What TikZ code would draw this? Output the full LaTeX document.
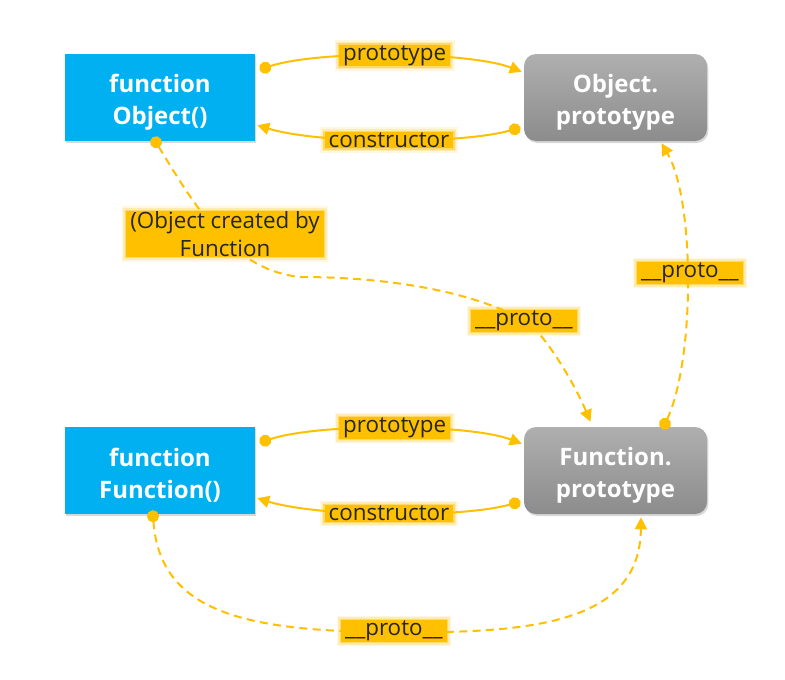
\documentclass[tikz,border=0pt]{standalone}
\usepackage{fontspec}
\setmainfont{Open Sans}
\usetikzlibrary{arrows.meta,shadows,calc}
\definecolor{boxblue}{HTML}{00B0F0}
\definecolor{gold}{HTML}{FFC000}
\definecolor{graytop}{HTML}{AFAFAF}
\definecolor{graybot}{HTML}{8C8C8C}
\begin{document}
\begin{tikzpicture}[x=0.75pt,y=-0.75pt,
  boxtext/.style={text=white, font=\fontsize{18}{24.5}\selectfont\bfseries, align=center, yshift=-3.5pt},
  fnbox/.style={fill=boxblue, minimum width=142.5pt, minimum height=65.25pt, inner sep=0pt,
    drop shadow={opacity=0.3, shadow xshift=1pt, shadow yshift=-1.5pt}},
  protobox/.style={top color=graytop, bottom color=graybot, rounded corners=9pt,
    minimum width=137.25pt, minimum height=65.25pt, inner sep=0pt,
    drop shadow={opacity=0.3, shadow xshift=1pt, shadow yshift=-1.5pt}},
  link/.style={draw=gold, line width=1.5pt, shorten <=-4.5pt,
    {Circle[length=9pt]}-{Triangle[length=9pt,width=9pt]}},
  dlink/.style={link, dash pattern=on 6pt off 4pt},
  tag/.style={fill=gold, inner xsep=3pt, inner ysep=0.5pt, text=black!85,
    font=\fontsize{16.8}{20.5}\selectfont, align=center,
    preaction={draw=gold, line width=7pt, opacity=0.12},
    preaction={draw=gold, line width=4.5pt, opacity=0.2},
    preaction={draw=gold, line width=2pt, opacity=0.4}}
]
\useasboundingbox[fill=white] (0,0) rectangle (785,679);

\node[fnbox, label={[boxtext]center:function\\Object()}] (obj) at (160,97.5) {};
\node[protobox, label={[boxtext]center:Object.\\prototype}] (objp) at (615.5,97.5) {};
\node[fnbox, label={[boxtext]center:function\\Function()}] (fun) at (160,470.5) {};
\node[protobox, label={[boxtext]center:Function.\\prototype}] (funp) at (615.5,470.5) {};

% top pair
\draw[link] ($(obj.north east)+(10,14)$) .. controls +(55,-18) and +(-52,-20) .. ($(objp.north west)+(-2,18)$)
  node[tag,pos=0.5] (t1) {prototype};
\draw[link] ($(objp.south west)+(-9,-12)$) .. controls +(-55,15) and +(63,19) .. ($(obj.south east)+(2,-16)$)
  node[tag,pos=0.5] (t2) {constructor};

% bottom pair
\draw[link] ($(fun.north east)+(10,14)$) .. controls +(55,-18) and +(-52,-20) .. ($(funp.north west)+(-2,17)$)
  node[tag,pos=0.5] (t3) {prototype};
\draw[link] ($(funp.south west)+(-9,-11)$) .. controls +(-55,15) and +(63,19) .. ($(fun.south east)+(2,-16)$)
  node[tag,pos=0.5] (t4) {constructor};

% dashed proto links
\draw[dlink] ($(obj.south)+(-4,1)$) .. controls (200,215) and (235,270) .. (300,277)
  .. controls (400,277) and (480,295) .. (525,321)
  .. controls (545,333) and (575,385) .. ($(funp.north)+(-25,-5)$);
\draw[dlink] ($(funp.north)+(49.5,-3)$) .. controls (695,360) and (695,200) .. ($(objp.south)+(46,2)$);
\draw[dlink] ($(fun.south)+(-7,2)$) .. controls (160,610) and (240,632) .. (395,632)
  .. controls (540,634) and (640,620) .. ($(funp.south)+(25.5,3)$);

\node[tag] (t5) at (225,234) {(Object created by\\Function};
\node[tag] (t6) at (524,321) {\_\_proto\_\_};
\node[tag] (t7) at (690,273) {\_\_proto\_\_};
\node[tag] (t8) at (394,631) {\_\_proto\_\_};
\end{tikzpicture}
\end{document}
